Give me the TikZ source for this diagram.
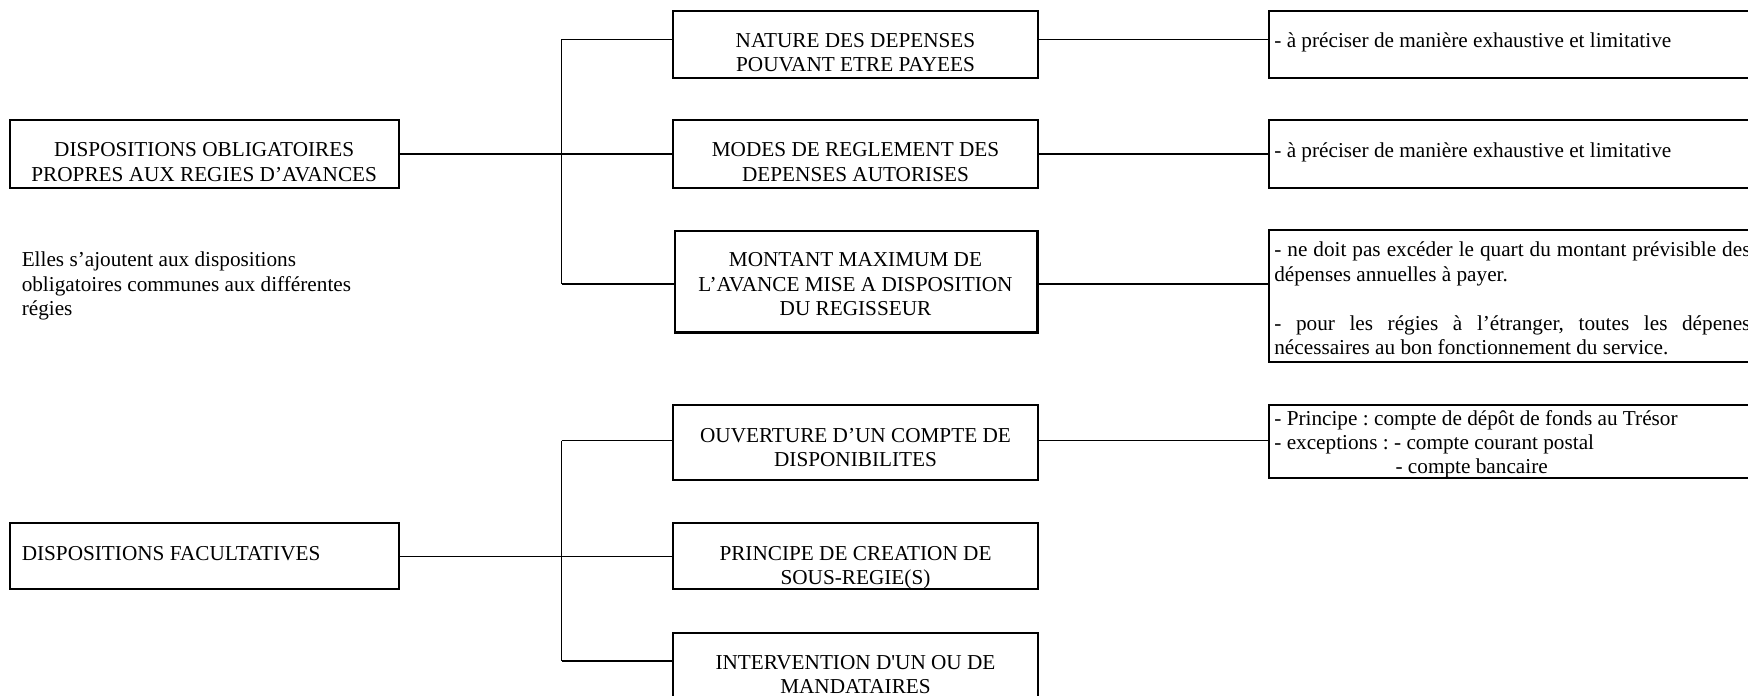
\documentclass[tikz,border=0pt]{standalone}
\usepackage{fontspec}
\setmainfont{Liberation Serif}
\usetikzlibrary{fit}
\frenchspacing
\newcommand\ctab[1]{\begin{tabular}[t]{@{}c@{}}#1\end{tabular}}
\newcommand\ltab[1]{\begin{tabular}[t]{@{}l@{}}#1\end{tabular}}
\begin{document}
\begin{tikzpicture}[x=0.565pt,y=-0.565pt,
  box/.style={draw,line width=1.05pt,inner sep=0pt},
  thickbox/.style={draw,line width=1.4pt,inner sep=0pt},
  conn/.style={line width=0.8pt},
  txt/.style={inner sep=0pt,anchor=base,font=\fontsize{12}{13.8}\selectfont},
  ltxt/.style={txt,anchor=base west}]
\useasboundingbox (0,0) rectangle (1748,696);
\clip (0,0) rectangle (1748,696);
% boxes
\node[box,fit={(9.8,120) (398.6,188.3)}] (A) {};
\node[box,fit={(9.8,523.3) (398.6,589.3)}] (B) {};
\node[box,fit={(673.4,11) (1037.7,77.7)}] (M1) {};
\node[box,fit={(673.4,120) (1037.7,188.3)}] (M2) {};
\node[thickbox,fit={(675,231) (1037.7,332.5)}] (M3) {};
\node[box,fit={(673.4,405) (1037.7,480)}] (M4) {};
\node[box,fit={(673.4,523.3) (1037.7,589.3)}] (M5) {};
\node[box,fit={(673.4,633.3) (1037.7,712)}] (M6) {};
\node[box,fit={(1269.3,11) (1765,77.7)}] (R1) {};
\node[box,fit={(1269.3,120) (1765,188.3)}] (R2) {};
\node[box,fit={(1269.3,230) (1765,361.7)}] (R3) {};
\node[box,fit={(1269.3,405) (1765,478.3)}] (R4) {};
% texts
\node[txt] (tA) at (204.2,157) {\ctab{DISPOSITIONS OBLIGATOIRES\\PROPRES AUX REGIES D’AVANCES}};
\node[ltxt] (tE) at (21.4,267) {\ltab{Elles s’ajoutent aux dispositions\\obligatoires communes aux différentes\\régies}};
\node[ltxt] (tB) at (21.4,560) {DISPOSITIONS FACULTATIVES};
\node[txt] (tM1) at (855.5,47.5) {\ctab{NATURE DES DEPENSES\\POUVANT ETRE PAYEES}};
\node[txt] (tM2) at (855.5,157) {\ctab{MODES DE REGLEMENT DES\\DEPENSES AUTORISES}};
\node[txt] (tM3) at (855.5,267) {\ctab{MONTANT MAXIMUM DE\\L’AVANCE MISE A DISPOSITION\\DU REGISSEUR}};
\node[txt] (tM4) at (855.5,442) {\ctab{OUVERTURE D’UN COMPTE DE\\DISPONIBILITES}};
\node[txt] (tM5) at (855.5,560) {\ctab{PRINCIPE DE CREATION DE\\SOUS-REGIE(S)}};
\node[txt] (tM6) at (855.5,669.5) {\ctab{INTERVENTION D\textquotesingle UN OU DE\\MANDATAIRES}};
\node[ltxt] (tR1) at (1274,48) {- à préciser de manière exhaustive et limitative};
\node[ltxt] (tR2) at (1274,157.5) {- à préciser de manière exhaustive et limitative};
\node[ltxt] (tR3) at (1274,257) {\parbox[t]{269pt}{\fontsize{12}{13.8}\selectfont\tolerance=10000
- ne doit pas excéder le quart du montant prévisible des\linebreak dépenses annuelles à payer.\par\vspace{13.8pt}
- pour les régies à l’étranger, toutes les dépenes\linebreak nécessaires au bon fonctionnement du service.}};
\node[ltxt] (tR4) at (1274,425) {\ltab{- Principe : compte de dépôt de fonds au Trésor\\- exceptions : - compte courant postal\\\hspace*{68.5pt}- compte bancaire}};
% connectors, upper tree
\coordinate (j1a) at (561.6,39.3);
\coordinate (j1b) at (561.6,284);
\draw[conn] (A.east) -- (A.east -| j1a);
\draw[conn] (j1a) -- (j1b);
\draw[conn] (j1a) -- (j1a -| M1.west);
\draw[conn] (M2.west) -- (M2.west -| j1a);
\draw[conn] (j1b) -- (j1b -| M3.west);
\draw[conn] (j1a -| M1.east) -- (j1a -| R1.west);
\draw[conn] (M2.east) -- (M2.east -| R2.west);
\draw[conn] (j1b -| M3.east) -- (j1b -| R3.west);
% connectors, lower tree
\coordinate (j2a) at (561.6,440.7);
\coordinate (j2b) at (561.6,661);
\draw[conn] (B.east) -- (B.east -| j2a);
\draw[conn] (j2a) -- (j2b);
\draw[conn] (j2a) -- (j2a -| M4.west);
\draw[conn] (M5.west) -- (M5.west -| j2a);
\draw[conn] (j2b) -- (j2b -| M6.west);
\draw[conn] (j2a -| M4.east) -- (j2a -| R4.west);
\end{tikzpicture}
\end{document}
